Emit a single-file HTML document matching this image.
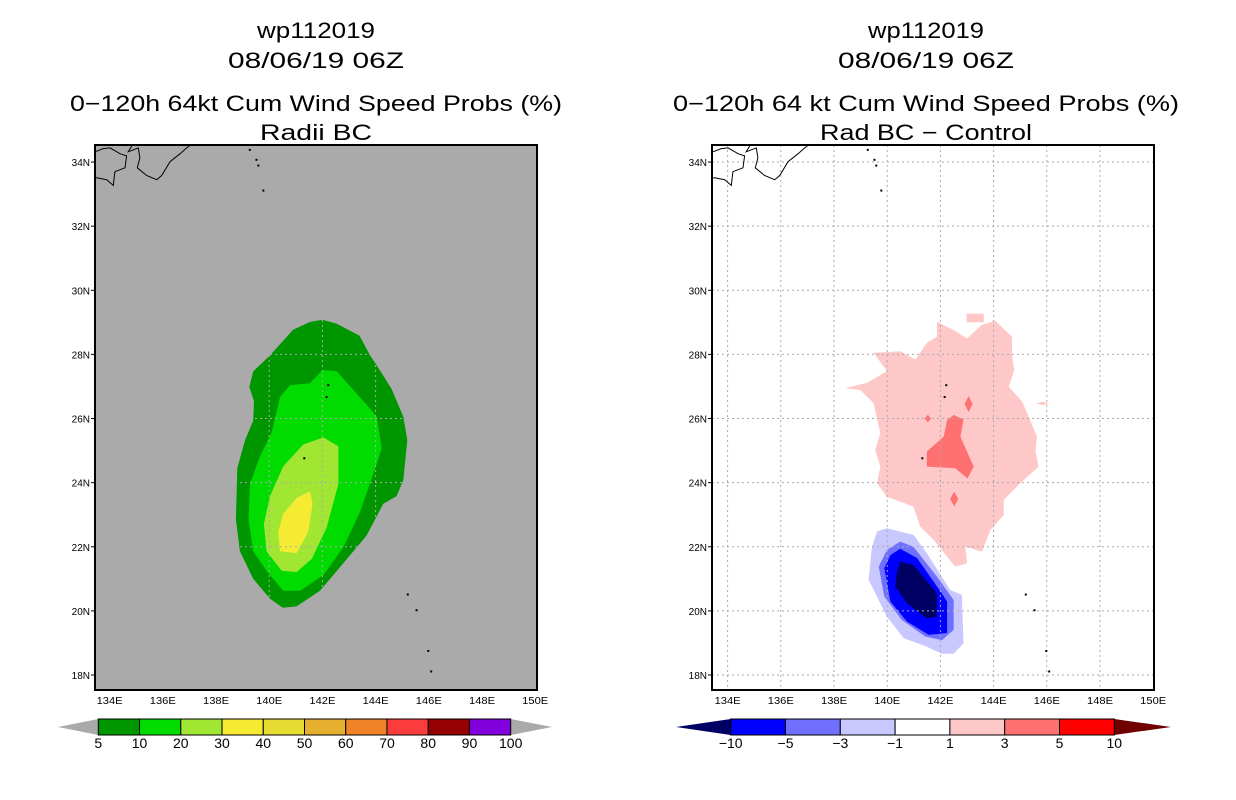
<!DOCTYPE html>
<html><head><meta charset="utf-8"><style>
html,body{margin:0;padding:0;background:#fff;}
svg{display:block;font-family:"Liberation Sans",sans-serif;}
</style></head><body>
<svg id="fig" width="1236" height="800" viewBox="0 0 1236 800" xmlns="http://www.w3.org/2000/svg"></svg>
<script>
// ---------- data ----------
const lonTicks = [134,136,138,140,142,144,146,148,150];
const latTicks = [18,20,22,24,26,28,30,32,34];
const probLevels = ["5","10","20","30","40","50","60","70","80","90","100"];
const probColors = ["#009600","#00dc00","#a0e632","#f5eb32","#e6dc32","#e6af2d","#f08228","#fa3c3c","#960000","#8200dc"];
const diffLevels = ["-10","-5","-3","-1","1","3","5","10"];
const diffColors = ["#0000ff","#7070ff","#c8c8ff","#ffffff","#ffc8c8","#ff7070","#ff0000"];
// probability contours (lon,lat pairs)
const prob5 = [[142.0,29.08],[141.53,29.01],[140.9,28.77],[140.03,27.97],[139.4,27.47],[139.25,26.98],[139.43,26.55],[139.4,25.93],[139.09,25.32],[138.8,24.45],[138.75,22.85],[138.9,21.86],[139.4,21.0],[140.03,20.38],[140.51,20.1],[141.03,20.14],[141.91,20.63],[142.79,21.49],[143.66,22.35],[144.29,23.34],[144.79,23.58],[145.04,24.08],[145.19,25.32],[145.04,26.06],[144.6,26.92],[144.04,27.66],[143.79,27.97],[143.4,28.58],[142.53,28.96]];
const prob10 = [[142.0,27.51],[141.53,27.10],[140.78,27.04],[140.41,26.67],[140.09,25.56],[139.65,24.82],[139.28,23.96],[139.22,22.85],[139.4,21.86],[139.9,21.25],[140.53,20.63],[141.16,20.63],[142.04,21.12],[142.79,21.99],[143.42,23.10],[144.04,24.58],[144.23,25.07],[144.04,26.06],[143.66,26.43],[142.53,27.48]];
const prob20 = [[142.04,25.41],[141.28,25.19],[140.53,24.51],[140.03,23.58],[139.8,22.72],[139.9,21.86],[140.47,21.25],[141.03,21.21],[141.6,21.62],[142.16,22.60],[142.6,23.96],[142.6,25.13]];
const prob30 = [[141.53,23.73],[141.03,23.52],[140.53,23.03],[140.34,22.47],[140.41,21.86],[141.03,21.80],[141.47,22.47],[141.63,23.34]];
// difference contours
const diffPos1 = [[141.87,29.02],[142.5,28.76],[143.0,28.5],[143.56,28.92],[144.06,29.05],[144.69,28.55],[144.69,27.98],[144.78,27.51],[144.57,26.99],[145.07,26.53],[145.32,26.06],[145.63,25.43],[145.57,24.97],[145.69,24.5],[145.0,23.98],[144.38,23.46],[144.38,22.99],[143.88,22.52],[143.56,21.85],[142.94,22.0],[143.0,21.48],[142.56,21.38],[142.25,21.69],[141.75,22.21],[141.24,22.63],[140.99,23.25],[140.49,23.41],[139.99,23.56],[139.62,23.98],[139.74,24.5],[139.55,25.02],[139.74,25.54],[139.49,26.48],[138.99,26.89],[138.42,26.95],[139.24,27.11],[139.99,27.48],[139.49,28.05],[140.49,28.1],[141.06,27.84],[141.49,28.36],[141.87,28.55]];
const diffPos1b = [[142.98,29.27],[143.63,29.27],[143.63,29.0],[142.98,29.0]];
const diffPos1c = [[145.6,26.47],[145.85,26.52],[146.1,26.47],[145.85,26.42]];
const diffPos3 = [[142.5,26.11],[142.87,25.97],[142.75,25.43],[143.25,24.5],[143.02,24.13],[142.56,24.45],[141.49,24.5],[141.49,24.97],[142.12,25.43],[142.25,25.95]];
const diffPos3b = [[143.06,26.7],[143.21,26.45],[143.06,26.2],[142.91,26.45]];
const diffPos3c = [[141.53,26.12],[141.65,26.0],[141.53,25.88],[141.41,26.0]];
const diffPos3d = [[142.52,23.72],[142.67,23.49],[142.52,23.26],[142.37,23.49]];
const diffNeg1 = [[139.99,22.58],[140.99,22.37],[141.49,21.8],[142.37,20.65],[142.81,20.5],[142.87,18.99],[142.5,18.66],[142.06,18.66],[141.49,18.88],[140.62,19.15],[139.99,19.82],[139.3,20.97],[139.43,22.01],[139.62,22.48]];
const diffNeg3 = [[140.49,22.16],[140.99,22.0],[141.87,21.07],[142.5,20.34],[142.5,19.41],[142.06,19.09],[141.43,19.2],[140.55,19.72],[139.89,20.45],[139.68,21.38],[139.99,21.9]];
const diffNeg5 = [[140.49,21.94],[141.12,21.65],[142.0,20.61],[142.25,20.29],[142.25,19.31],[141.56,19.25],[140.74,19.67],[140.12,20.29],[139.89,21.33],[140.12,21.74]];
const diffNeg10 = [[140.49,21.54],[140.99,21.43],[141.87,20.55],[141.87,19.82],[141.49,19.77],[140.74,20.24],[140.3,20.76],[140.37,21.23]];
// coastlines / islands
const coast1 = [[133.45,34.32],[133.76,34.42],[134.02,34.44],[134.39,34.26],[134.64,34.19],[134.58,33.82],[134.2,33.7],[134.14,33.27],[133.89,33.45],[133.51,33.51],[133.45,33.5]];
const coast2 = [[134.83,34.5],[134.7,34.32],[135.08,34.44],[135.14,34.13],[135.04,33.82],[135.39,33.58],[135.77,33.45],[135.96,33.58],[136.27,34.01],[136.65,34.26],[136.9,34.44],[137.0,34.5]];
const islands = [[139.27,34.38],[139.52,34.07],[139.59,33.89],[139.78,33.11],[142.22,27.04],[142.16,26.67],[141.32,24.76],[145.21,20.51],[145.54,20.02],[145.98,18.75],[146.09,18.11]];

// ---------- axes ----------
const NS="http://www.w3.org/2000/svg";
const svg=document.getElementById('fig');
const LON0=134, LAT0=18;
const DX=26.6, DY=32.06;
const FT=145, FB=690;
function xOf(panelX0, lon){return panelX0 + (lon-LON0)*DX;}
function yOf(lat){return 675 - (lat-LAT0)*DY;}
function mk(tag, attrs, parent){
  const e=document.createElementNS(NS,tag);
  for(const k in attrs) e.setAttribute(k, attrs[k]);
  (parent||svg).appendChild(e);
  return e;
}
function poly(px0, pts, fill, name, parent){
  const d=pts.map(p=>xOf(px0,p[0]).toFixed(1)+','+yOf(p[1]).toFixed(1)).join(' ');
  const e=mk('polygon',{points:d,fill:fill},parent);
  
  
  return e;
}
function line(px0, pts, name, parent){
  const d=pts.map(p=>xOf(px0,p[0]).toFixed(1)+','+yOf(p[1]).toFixed(1)).join(' ');
  const e=mk('polyline',{points:d,fill:'none',stroke:'#000','stroke-width':1},parent);
  
  
}
function txt(x,y,s,size,len,name,anchor){
  const e=mk('text',{x:x,y:y,'font-size':size,'text-anchor':anchor||'middle',fill:'#000'});
  if(len){e.setAttribute('textLength',len);e.setAttribute('lengthAdjust','spacingAndGlyphs');}
  e.textContent=s;
  
  
  return e;
}

function panel(px0, frameL, bg, gridColor, layers, titles, prefix){
  const g=mk('g',{});
  
  
  const fr=frameL, frR=frameL+442;
  const bgR=mk('rect',{x:fr,y:FT,width:442,height:FB-FT,fill:bg},g);
  
  
  layers.forEach(L=>poly(px0,L[0],L[1],prefix+'-'+L[2],g));
  // grid
  lonTicks.forEach(lo=>{
    const x=xOf(px0,lo);
    if(x>fr+2 && x<frR-2){
      const gl=mk('line',{x1:x,y1:FT,x2:x,y2:FB,stroke:gridColor,'stroke-dasharray':'2,3','stroke-width':1},g);
      
      
    }
  });
  latTicks.forEach(la=>{
    const y=yOf(la);
    const gl=mk('line',{x1:fr,y1:y,x2:frR,y2:y,stroke:gridColor,'stroke-dasharray':'2,3','stroke-width':1},g);
    
    
  });
  line(px0,coast1,prefix+'-coastline',g);
  line(px0,coast2,prefix+'-coastline',g);
  islands.forEach(p=>{
    const d=mk('rect',{x:xOf(px0,p[0])-1,y:yOf(p[1])-1,width:2,height:2,fill:'#000'},g);
    
    
  });
  const f=mk('rect',{x:fr,y:FT,width:442,height:FB-FT,fill:'none',stroke:'#000','stroke-width':2},g);
  
  
  lonTicks.forEach(lo=>{
    const x=xOf(px0,lo);
    txt(x,704,lo+'E',10,26,prefix+'-x-tick-label');
  });
  latTicks.forEach(la=>{
    const y=yOf(la);
    const t=mk('line',{x1:fr-4,y1:y,x2:fr,y2:y,stroke:'#000'},g);
    
    
    txt(fr-5,y+4,la+'N',10,null,prefix+'-y-tick-label','end');
  });
  // titles
  txt(titles[0][0],38,titles[1],22,titles[0][1],prefix+'-title-storm');
  txt(titles[0][0],68,titles[2],22,titles[0][2],prefix+'-title-date');
  txt(titles[0][0],111,titles[3],22,titles[0][3],prefix+'-title-product');
  txt(titles[0][0],140,titles[4],22,titles[0][4],prefix+'-title-subtitle');
}

panel(109.6,95,'#aaaaaa','#aaaaaa',[
  [prob5,probColors[0],'contour-5pct'],[prob10,probColors[1],'contour-10pct'],
  [prob20,probColors[2],'contour-20pct'],[prob30,probColors[3],'contour-30pct']],
  [[316,118,176,492,112],'wp112019','08/06/19 06Z','0\u2212120h 64kt Cum Wind Speed Probs (%)','Radii BC'],'left');

panel(727.6,712,'#ffffff','#aaaaaa',[
  [diffPos1,diffColors[4],'contour-plus1'],[diffPos1b,diffColors[4],'contour-plus1'],[diffPos1c,diffColors[4],'contour-plus1'],
  [diffPos3,diffColors[5],'contour-plus3'],[diffPos3b,diffColors[5],'contour-plus3'],[diffPos3c,diffColors[5],'contour-plus3'],[diffPos3d,diffColors[5],'contour-plus3'],
  [diffNeg1,diffColors[2],'contour-minus1'],[diffNeg3,diffColors[1],'contour-minus3'],
  [diffNeg5,diffColors[0],'contour-minus5'],[diffNeg10,'#000064','contour-minus10']],
  [[926,116,176,506,212],'wp112019','08/06/19 06Z','0\u2212120h 64 kt Cum Wind Speed Probs (%)','Rad BC \u2212 Control'],'right');

// ---------- colorbars ----------
function colorbar(x0,x1,colors,labels,lowTri,highTri,triL,triR,prefix){
  const n=colors.length, w=(x1-x0)/n, y0=719, y1=735;
  const tl=mk('polygon',{points:`${triL},727 ${x0},${y0} ${x0},${y1}`,fill:lowTri});
  
  
  const tr=mk('polygon',{points:`${triR},727 ${x1},${y0} ${x1},${y1}`,fill:highTri});
  
  
  colors.forEach((c,i)=>{
    const r=mk('rect',{x:x0+i*w,y:y0,width:w,height:y1-y0,fill:c,stroke:'#000','stroke-width':1});
    
    
  });
  labels.forEach((s,i)=>{
    txt(x0+i*w,748,s.replace('-','\u2212'),14,null,prefix+'-colorbar-label');
  });
}
colorbar(98.3,510.7,probColors,probLevels,'#aaaaaa','#aaaaaa',58,552,'left');
colorbar(730.7,1114.3,diffColors,diffLevels,'#000064','#700000',676,1171,'right');
</script>
</body></html>
